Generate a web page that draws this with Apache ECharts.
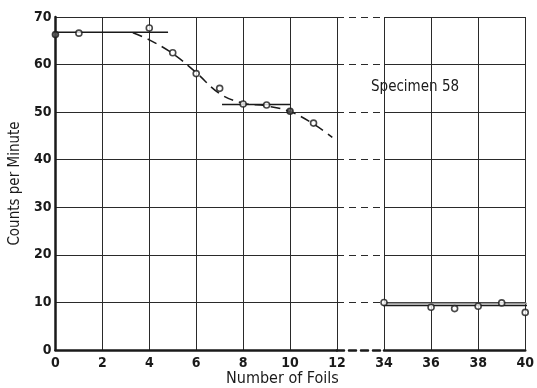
<!DOCTYPE html>
<html><head><meta charset="utf-8">
<script src="https://cdn.jsdelivr.net/npm/echarts@6/dist/echarts.min.js"></script>
<style>html,body{margin:0;padding:0;background:#fff}#c{width:537px;height:388px}</style>
</head><body><div id="c"></div>
<script>
// Data
const leftX = [0, 1, 4, 5, 6, 7, 8, 9, 10, 11];
const leftY = [66.3, 66.6, 67.7, 62.5, 58.1, 55.0, 51.7, 51.5, 50.2, 47.7];
const rightX = [34, 36, 37, 38, 39, 40];
const rightY = [10.0, 9.0, 8.7, 9.2, 9.9, 7.9];
const curveX = [3.3, 4, 5, 6, 7, 8, 9, 10, 11, 11.8];
const curveY = [66.7, 65.2, 62.3, 58.3, 53.9, 51.9, 51.3, 50.1, 47.5, 44.7];
const topFlatX = [0, 4.8];
const topFlatY = [66.8, 66.8];
const midFlatX = [7.1, 10];
const midFlatY = [51.6, 51.6];
const lowFlatX = [33.3, 40.2];
const lowFlatGrayY = [9.75, 9.75];
const lowFlatBlackY = [9.35, 9.35];
const leftTicks = [0, 2, 4, 6, 8, 10, 12];
const rightTicks = [34, 36, 38, 40];
const yTicks = [0, 10, 20, 30, 40, 50, 60, 70];
const darkLeftPoints = [0, 8]; // indices of points drawn dark in the picture

const zip = (xs, ys) => xs.map((x, i) => [x, ys[i]]);
const FONT = '"DejaVu Sans Condensed", "DejaVu Sans", sans-serif';
const INK = '#1a1a1a';

const chart = echarts.init(document.getElementById('c'), null, {renderer: 'canvas'});
const labelStyle = {color: INK, fontFamily: FONT, fontWeight: 'bold', fontSize: 14};
const gridLine = {show: true, lineStyle: {color: '#2a2a2a', width: 1}};

chart.setOption({
  animation: false,
  backgroundColor: '#fff',
  grid: [
    {left: 52, right: 200, top: 17, bottom: 38},
    {left: 384, right: 9, top: 17, bottom: 38},
    {left: 337, right: 153, top: 17, bottom: 38}
  ],
  xAxis: [
    {gridIndex: 0, type: 'value', min: leftTicks[0], max: leftTicks[leftTicks.length - 1], interval: 2,
     axisLine: {show: true, onZero: false, lineStyle: {color: INK, width: 2.5}},
     axisTick: {show: false}, axisLabel: Object.assign({margin: 6}, labelStyle), splitLine: gridLine},
    {gridIndex: 1, type: 'value', min: rightTicks[0], max: rightTicks[rightTicks.length - 1], interval: 2,
     axisLine: {show: true, onZero: false, lineStyle: {color: INK, width: 2.5}},
     axisTick: {show: false}, axisLabel: Object.assign({margin: 6}, labelStyle), splitLine: gridLine},
    {gridIndex: 2, type: 'value', min: 0, max: 1,
     axisLine: {show: true, onZero: false, lineStyle: {color: INK, width: 2.5, type: [7, 5]}},
     axisTick: {show: false}, axisLabel: {show: false}, splitLine: {show: false}}
  ],
  yAxis: [
    {gridIndex: 0, type: 'value', min: yTicks[0], max: yTicks[yTicks.length - 1], interval: 10,
     axisLine: {show: true, lineStyle: {color: INK, width: 2.5}},
     axisTick: {show: false}, axisLabel: Object.assign({margin: 4}, labelStyle), splitLine: gridLine,
     name: 'Counts per Minute', nameLocation: 'middle', nameGap: 29,
     nameTextStyle: {color: INK, fontFamily: FONT, fontSize: 15}},
    {gridIndex: 1, type: 'value', min: 0, max: 70, interval: 10,
     axisLine: {show: false}, axisTick: {show: false}, axisLabel: {show: false}, splitLine: gridLine},
    {gridIndex: 2, type: 'value', min: 0, max: 70, interval: 10,
     axisLine: {show: false}, axisTick: {show: false}, axisLabel: {show: false},
     splitLine: {show: true, lineStyle: {color: '#2a2a2a', width: 1.2, type: [7, 5]}}}
  ],
  graphic: [
    {type: 'text', left: 226, top: 371, style: {text: 'Number of Foils', fill: INK, font: '16px ' + FONT}},
    {type: 'text', left: 371, top: 80, style: {text: 'Specimen 58', fill: INK, font: '15px ' + FONT}}
  ],
  series: [
    {type: 'line', xAxisIndex: 0, yAxisIndex: 0, data: zip(topFlatX, topFlatY), symbol: 'none',
     lineStyle: {color: INK, width: 1.5}, clip: false},
    {type: 'line', xAxisIndex: 0, yAxisIndex: 0, data: zip(midFlatX, midFlatY), symbol: 'none',
     lineStyle: {color: INK, width: 1.5}, clip: false},
    {type: 'line', xAxisIndex: 0, yAxisIndex: 0, data: zip(curveX, curveY), symbol: 'none', smooth: 0.4,
     lineStyle: {color: INK, width: 1.5, type: [10, 6]}, clip: false},
    {type: 'line', xAxisIndex: 1, yAxisIndex: 1, data: zip(lowFlatX, lowFlatGrayY), symbol: 'none',
     lineStyle: {color: '#999', width: 1.5}, clip: false},
    {type: 'line', xAxisIndex: 1, yAxisIndex: 1, data: zip(lowFlatX, lowFlatBlackY), symbol: 'none',
     lineStyle: {color: INK, width: 1.5}, clip: false},
    {type: 'scatter', xAxisIndex: 0, yAxisIndex: 0, data: zip(leftX, leftY), symbol: 'circle', symbolSize: 6,
     itemStyle: {color: (p) => darkLeftPoints.includes(p.dataIndex) ? '#555' : '#fff', borderColor: INK, borderWidth: 1.6},
     clip: false, z: 5},
    {type: 'scatter', xAxisIndex: 1, yAxisIndex: 1, data: zip(rightX, rightY), symbol: 'circle', symbolSize: 6,
     itemStyle: {color: '#fff', borderColor: INK, borderWidth: 1.6}, clip: false, z: 5}
  ]
});
</script></body></html>
